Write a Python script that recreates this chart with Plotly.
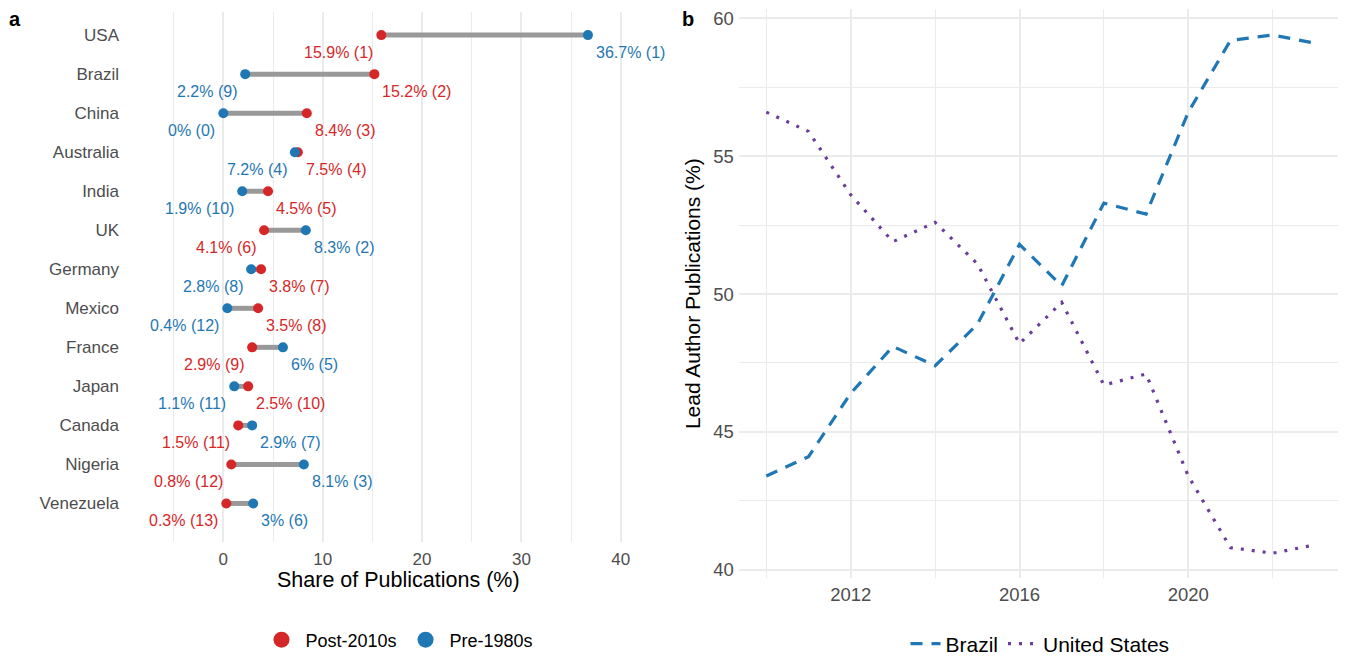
import plotly.graph_objects as go

# ---------------- Panel a data ----------------
countries = ["USA", "Brazil", "China", "Australia", "India", "UK", "Germany",
             "Mexico", "France", "Japan", "Canada", "Nigeria", "Venezuela"]
post_share = [15.9, 15.2, 8.4, 7.5, 4.5, 4.1, 3.8, 3.5, 2.9, 2.5, 1.5, 0.8, 0.3]
post_rank = [1, 2, 3, 4, 5, 6, 7, 8, 9, 10, 11, 12, 13]
pre_share = [36.7, 2.2, 0, 7.2, 1.9, 8.3, 2.8, 0.4, 6, 1.1, 2.9, 8.1, 3]
pre_rank = [1, 9, 0, 4, 10, 2, 8, 12, 5, 11, 7, 3, 6]

# ---------------- Panel b data ----------------
years = [2010, 2011, 2012, 2013, 2014, 2015, 2016, 2017, 2018, 2019, 2020, 2021, 2022, 2023]
brazil = [43.4, 44.1, 46.4, 48.1, 47.4, 48.9, 51.8, 50.3, 53.3, 52.9, 56.6, 59.2, 59.4, 59.1]
usa = [56.6, 55.9, 53.6, 51.9, 52.6, 51.1, 48.2, 49.7, 46.7, 47.1, 43.4, 40.8, 40.6, 40.9]

RED = "#D62728"
BLUE = "#1F77B4"
PURPLE = "#6A3D9A"
SEG = "#999999"
GRID = "#EBEBEB"
TICK = "#4D4D4D"
FONT = "Liberation Sans, Arial, Helvetica, sans-serif"

# figure fits inside the page's default 8px body margin
W, H = 1338, 648
OFF = 8


def px_x(p):
    return (p - OFF) / W


def px_y(p):
    return 1 - (p - OFF) / H


fig = go.Figure()

rows = list(range(len(countries)))

# segments
seg_x, seg_y = [], []
for i in rows:
    seg_x += [pre_share[i], post_share[i], None]
    seg_y += [i, i, None]
fig.add_trace(go.Scatter(x=seg_x, y=seg_y, mode="lines",
                         line=dict(color=SEG, width=5),
                         showlegend=False, hoverinfo="skip",
                         xaxis="x", yaxis="y"))

fig.add_trace(go.Scatter(x=post_share, y=rows, mode="markers",
                         marker=dict(color=RED, size=10),
                         name="Post-2010s", showlegend=False,
                         xaxis="x", yaxis="y"))
fig.add_trace(go.Scatter(x=pre_share, y=rows, mode="markers",
                         marker=dict(color=BLUE, size=10),
                         name="Pre-1980s", showlegend=False,
                         xaxis="x", yaxis="y"))
# legend entries with larger symbols
fig.add_trace(go.Scatter(x=[None], y=[None], mode="markers",
                         marker=dict(color=RED, size=18),
                         name="Post-2010s", legend="legend",
                         xaxis="x", yaxis="y"))
fig.add_trace(go.Scatter(x=[None], y=[None], mode="markers",
                         marker=dict(color=BLUE, size=18),
                         name="Pre-1980s", legend="legend",
                         xaxis="x", yaxis="y"))

annotations = []
for i in rows:
    items = [(post_share[i], post_rank[i], RED), (pre_share[i], pre_rank[i], BLUE)]
    lo = min(items, key=lambda t: t[0])
    hi = max(items, key=lambda t: t[0])
    for (v, r, c), side in ((lo, "right"), (hi, "left")):
        annotations.append(dict(
            x=v, y=i, xref="x", yref="y",
            text=f"{v:g}% ({r})", showarrow=False,
            xanchor=side, yanchor="middle",
            xshift=-6 if side == "right" else 6, yshift=-17,
            font=dict(family=FONT, size=16, color=c)))

# ---------------- Panel b traces ----------------
fig.add_trace(go.Scatter(x=years, y=brazil, mode="lines", name="Brazil",
                         line=dict(color=BLUE, width=3.2, dash="12px,9px"),
                         legend="legend2", xaxis="x2", yaxis="y2"))
fig.add_trace(go.Scatter(x=years, y=usa, mode="lines", name="United States",
                         line=dict(color=PURPLE, width=3.2, dash="3px,8px"),
                         legend="legend2", xaxis="x2", yaxis="y2"))

annotations.append(dict(x=px_x(15), y=px_y(19), xref="paper", yref="paper",
                        text="<b>a</b>", showarrow=False, xanchor="center", yanchor="middle",
                        font=dict(family=FONT, size=20, color="black")))
annotations.append(dict(x=px_x(688), y=px_y(19), xref="paper", yref="paper",
                        text="<b>b</b>", showarrow=False, xanchor="center", yanchor="middle",
                        font=dict(family=FONT, size=20, color="black")))

fig.update_layout(
    width=W, height=H,
    margin=dict(l=0, r=0, t=0, b=0, autoexpand=False),
    paper_bgcolor="white", plot_bgcolor="white",
    font=dict(family=FONT, color=TICK),
    annotations=annotations,
    xaxis=dict(domain=[px_x(123), px_x(672.4)], range=[-10.1, 45.2],
               tickvals=[0, 10, 20, 30, 40], showgrid=True, gridcolor=GRID, gridwidth=1.6,
               minor=dict(tickvals=[-5, 5, 15, 25, 35], showgrid=True, gridcolor=GRID, gridwidth=1.0),
               zeroline=False, showline=False, ticks="", automargin=False, ticklabelstandoff=5,
               ticklabeloverflow="allow",
               tickfont=dict(family=FONT, size=17, color=TICK)),
    yaxis=dict(domain=[px_y(541.7), px_y(11.7)], range=[12.98, -0.6],
               tickvals=rows, ticktext=countries, showgrid=False, automargin=False,
               zeroline=False, showline=False, ticks="", ticklabelstandoff=3,
               ticklabeloverflow="allow",
               tickfont=dict(family=FONT, size=17, color=TICK)),
    xaxis2=dict(domain=[px_x(738.9), px_x(1342.3)], range=[2009.35, 2023.65], anchor="y2",
                tickvals=[2012, 2016, 2020], showgrid=True, gridcolor=GRID, gridwidth=1.6,
                minor=dict(tickvals=[2010, 2014, 2018, 2022], showgrid=True, gridcolor=GRID, gridwidth=1.0),
                zeroline=False, showline=False, ticks="", automargin=False, ticklabelstandoff=3,
                ticklabeloverflow="allow",
                tickfont=dict(family=FONT, size=18.5, color=TICK)),
    yaxis2=dict(domain=[px_y(578), px_y(9.3)], range=[39.7, 60.33], anchor="x2",
                tickvals=[40, 45, 50, 55, 60], showgrid=True, gridcolor=GRID, gridwidth=1.6,
                minor=dict(tickvals=[42.5, 47.5, 52.5, 57.5], showgrid=True, gridcolor=GRID, gridwidth=1.0),
                zeroline=False, showline=False, ticks="", ticklabelstandoff=4, automargin=False,
                ticklabeloverflow="allow",
                tickfont=dict(family=FONT, size=18.5, color=TICK),
                title=dict(text="Lead Author Publications (%)", standoff=6,
                           font=dict(family=FONT, size=21, color="black"))),
    legend=dict(orientation="h", x=px_x(398), xanchor="center", y=px_y(640), yanchor="middle",
                font=dict(family=FONT, size=18, color="black"), itemsizing="trace",
                itemwidth=38, bgcolor="rgba(0,0,0,0)"),
    legend2=dict(orientation="h", x=px_x(1040), xanchor="center", y=px_y(644), yanchor="middle",
                 font=dict(family=FONT, size=21, color="black"), itemwidth=30,
                 bgcolor="rgba(0,0,0,0)"),
)

# x-axis title of panel a placed as an annotation under the panel
fig.add_annotation(x=px_x(398), y=px_y(580), xref="paper", yref="paper",
                   text="Share of Publications (%)", showarrow=False,
                   xanchor="center", yanchor="middle",
                   font=dict(family=FONT, size=21.5, color="black"))

fig.write_html("out.html")
